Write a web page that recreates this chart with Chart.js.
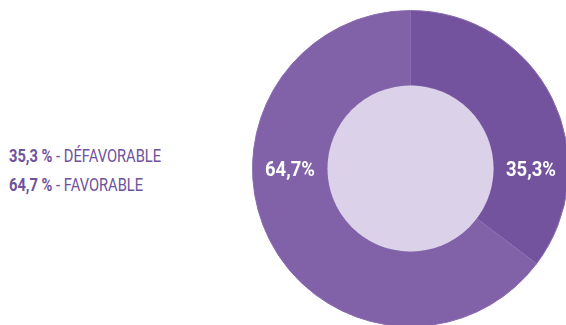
<!DOCTYPE html>
<html>
<head>
<meta charset="utf-8">
<script src="https://cdn.jsdelivr.net/npm/chart.js@4"></script>
<style>
  html, body { margin: 0; padding: 0; background: #fff; overflow: hidden; width: 566px; height: 325px; }
  #legend { position: absolute; left: 9px; top: 142px; font-family: Roboto, sans-serif; font-size: 17.5px; color: #6f529c; line-height: 29px; transform: scaleX(0.84); transform-origin: 0 0; white-space: nowrap; }
  #legend b { font-weight: bold; }
  #wrap { position: absolute; left: 252px; top: 10px; width: 317px; height: 317px; }
</style>
</head>
<body>
<div id="legend"></div>
<div id="wrap"><canvas id="chart"></canvas></div>
<script>
const labels = ['DÉFAVORABLE', 'FAVORABLE'];
const values = [35.3, 64.7];
const colors = ['#74539e', '#8161a7'];

// légende à gauche
const legend = document.getElementById('legend');
labels.forEach((l, i) => {
    const div = document.createElement('div');
    div.innerHTML = `<b>${values[i].toFixed(1).replace('.', ',')} %</b> - ${l}`;
    legend.appendChild(div);
});

// centre clair + étiquettes
const donutExtras = {
    id: 'donutExtras',
    afterDatasetsDraw(chart) {
        const ctx = chart.ctx;
        const arcs = chart.getDatasetMeta(0).data;
        const a = arcs[0];
        ctx.save();
        ctx.beginPath();
        ctx.arc(a.x, a.y, a.innerRadius, 0, Math.PI * 2);
        ctx.fillStyle = '#dbd2ea';
        ctx.fill();
        const mid = (a.innerRadius + a.outerRadius) / 2;
        ctx.fillStyle = '#fff';
        ctx.font = 'bold 21px Roboto, sans-serif';
        ctx.textAlign = 'center';
        ctx.textBaseline = 'middle';
        arcs.forEach((arc, i) => {
            const side = i === 0 ? 1 : -1;
            ctx.save();
            ctx.translate(arc.x + side * mid, arc.y + 2);
            ctx.scale(0.88, 1);
            ctx.fillText(values[i].toFixed(1).replace('.', ',') + '%', 0, 0);
            ctx.restore();
        });
        ctx.restore();
    }
};

new Chart(document.getElementById('chart'), {
    type: 'doughnut',
    data: {
        labels: labels,
        datasets: [{
            data: values,
            backgroundColor: colors,
            borderColor: '#8a6db0',
            borderWidth: 1
        }]
    },
    options: {
        responsive: true,
        maintainAspectRatio: false,
        animation: false,
        cutout: '52.5%',
        layout: { padding: 0 },
        plugins: { legend: { display: false }, tooltip: { enabled: false } }
    },
    plugins: [donutExtras]
});
</script>
</body>
</html>
